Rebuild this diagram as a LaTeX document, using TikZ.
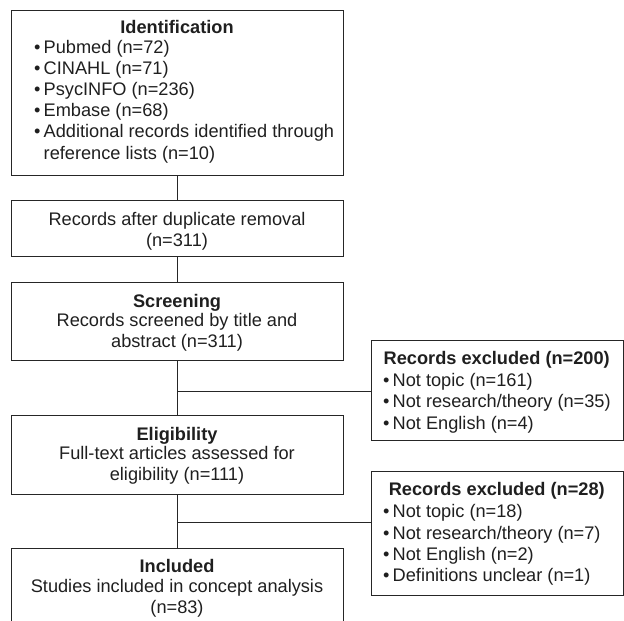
\documentclass[tikz,border=0pt]{standalone}
\usepackage{fontspec}
\setmainfont{Liberation Sans}
\newcommand\bitem{\makebox[9.5pt][l]{•}}
\begin{document}
\begin{tikzpicture}[x=1pt,y=-1pt,
  box/.style={draw=black!85, line width=0.9pt, inner sep=0pt, anchor=north west},
  ttl/.style={font=\fontsize{18.2}{21}\selectfont\bfseries, anchor=base, inner sep=0pt, text=black!88},
  txt/.style={font=\fontsize{18.2}{20.5}\selectfont, anchor=base, align=center, inner sep=0pt, text=black!88},
  lst/.style={font=\fontsize{18.2}{21.2}\selectfont, anchor=base west, align=left, inner sep=0pt, text=black!88},
  conn/.style={draw=black!85, line width=0.9pt}]
\useasboundingbox (0,0) rectangle (624,621);
\clip (0,0) rectangle (624,621);
% boxes
\node[box, minimum width=332, minimum height=165] (id) at (11,9.5) {};
\node[box, minimum width=332, minimum height=56] (dup) at (11,200) {};
\node[box, minimum width=332, minimum height=78] (scr) at (11,282) {};
\node[box, minimum width=332, minimum height=79] (elig) at (11,415) {};
\node[box, minimum width=332, minimum height=90] (incl) at (11,548) {};
\node[box, minimum width=251.5, minimum height=100] (exc1) at (371,340) {};
\node[box, minimum width=251.5, minimum height=124] (exc2) at (371,471) {};
% texts (multi-line texts are placed at the baseline of their last line)
\node[ttl] (idt) at (177,33) {Identification};
\node[lst] (idl) at (34,159) {\bitem Pubmed (n=72)\\\bitem CINAHL (n=71)\\\bitem PsycINFO (n=236)\\\bitem Embase (n=68)\\\bitem Additional records identified through\\\hspace*{9.5pt}reference lists (n=10)};
\node[txt] (dupt) at (177,246) {Records after duplicate removal\\(n=311)};
\node[ttl] (scrt) at (177,307) {Screening};
\node[txt] (scrx) at (177,347) {Records screened by title and\\abstract (n=311)};
\node[ttl] (eligt) at (177,440) {Eligibility};
\node[txt] (eligx) at (177,480) {Full-text articles assessed for\\eligibility (n=111)};
\node[ttl] (inclt) at (177,572) {Included};
\node[txt] (inclx) at (177,613) {Studies included in concept analysis\\(n=83)};
\node[ttl] (exc1t) at (496.75,364) {Records excluded (n=200)};
\node[lst] (exc1l) at (383,429) {\bitem Not topic (n=161)\\\bitem Not research/theory (n=35)\\\bitem Not English (n=4)};
\node[ttl] (exc2t) at (496.75,495) {Records excluded (n=28)};
\node[lst] (exc2l) at (383,581.5) {\bitem Not topic (n=18)\\\bitem Not research/theory (n=7)\\\bitem Not English (n=2)\\\bitem Definitions unclear (n=1)};
% connectors
\draw[conn] (id.south) -- (dup.north);
\draw[conn] (dup.south) -- (scr.north);
\draw[conn] (scr.south) -- (elig.north);
\draw[conn] (elig.south) -- (incl.north);
\coordinate (j1) at (177,391);
\coordinate (j2) at (177,522);
\draw[conn] (j1) -- (j1 -| exc1.west);
\draw[conn] (j2) -- (j2 -| exc2.west);
\end{tikzpicture}
\end{document}
